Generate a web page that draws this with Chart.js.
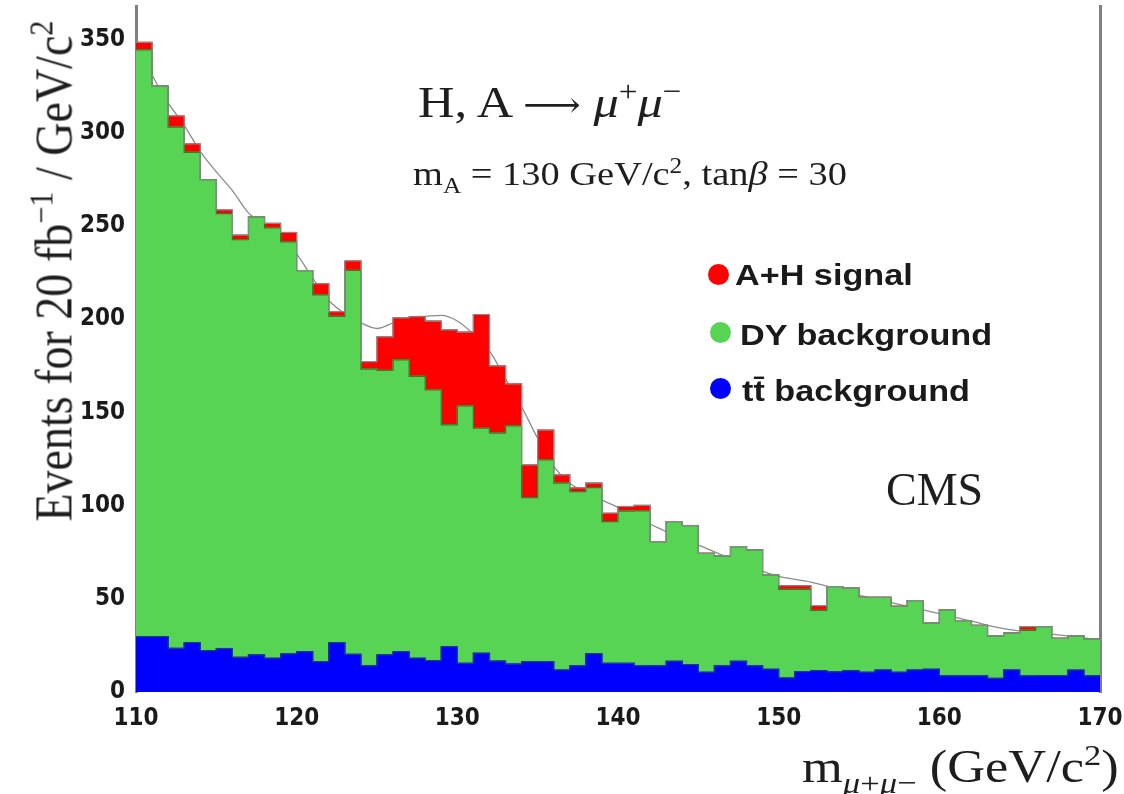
<!DOCTYPE html>
<html>
<head>
<meta charset="utf-8">
<script src="https://cdn.jsdelivr.net/npm/chart.js@4.4.0/dist/chart.umd.min.js"></script>
<style>
    body { margin: 0; background: #fff; }
    #wrap { position: relative; width: 1124px; height: 794px; overflow: hidden; }
    canvas { position: absolute; left: 0; top: 0; }
    .serif { position: absolute; white-space: nowrap; line-height: 1; color: #1e1e1e;
             font-family: 'Liberation Serif', 'Times New Roman', serif; transform-origin: 0 0; }
    .serif i { font-style: italic; }
    .sup { font-size: 0.66em; position: relative; top: -0.55em; }
    .sub { font-size: 0.66em; position: relative; top: 0.35em; }
    .arrow { font-family: 'DejaVu Serif', 'DejaVu Sans', serif; font-size: 0.8em; }
    .leg { position: absolute; white-space: nowrap; line-height: 1; color: #1a1a1a;
           font-family: 'Liberation Sans', Arial, sans-serif; font-weight: bold; font-size: 30px;
           transform-origin: 0 0; transform: scaleX(1.14); }
    .dot { position: absolute; width: 21px; height: 21px; border-radius: 50%; }
</style>
</head>
<body>
<div id="wrap">
    <canvas id="histo" width="1124" height="794"></canvas>

    <div class="serif" style="left:418px; top:80px; font-size:45px; transform:scaleX(1.12);">H, A <span class="arrow">&#10230;</span> <i>&mu;</i><span class="sup">+</span><i>&mu;</i><span class="sup">&minus;</span></div>
    <div class="serif" style="left:413px; top:157px; font-size:34px; transform:scaleX(1.13);">m<span class="sub">A</span> = 130 GeV/c<span class="sup">2</span>, tan<i>&beta;</i> = 30</div>

    <div class="dot" style="left:708px; top:264px; background:#ff0000;"></div>
    <div class="leg" style="left:735px; top:260px;">A+H signal</div>
    <div class="dot" style="left:710px; top:322px; background:#57d453;"></div>
    <div class="leg" style="left:740px; top:320px;">DY background</div>
    <div class="dot" style="left:710px; top:378px; background:#0000ff;"></div>
    <div class="leg" style="left:742px; top:376px;">tt&#772; background</div>

    <div class="serif" style="left:886px; top:467px; font-size:46px;">CMS</div>

    <div class="serif" id="ytitle" style="left:0; top:0; font-size:46px;">Events for 20 fb<span class="sup">&minus;1</span> / GeV/c<span class="sup">2</span></div>
    <div class="serif" style="left:802px; top:744px; font-size:46px; transform:scaleX(1.14);">m<span class="sub"><i>&mu;</i>+<i>&mu;</i>&minus;</span> (GeV/c<span class="sup">2</span>)</div>
</div>

<script>
// bin centres, 1 GeV/c2 wide, 110 - 170
const massBins = [110.5, 111.5, 112.5, 113.5, 114.5, 115.5, 116.5, 117.5, 118.5, 119.5,
    120.5, 121.5, 122.5, 123.5, 124.5, 125.5, 126.5, 127.5, 128.5, 129.5,
    130.5, 131.5, 132.5, 133.5, 134.5, 135.5, 136.5, 137.5, 138.5, 139.5,
    140.5, 141.5, 142.5, 143.5, 144.5, 145.5, 146.5, 147.5, 148.5, 149.5,
    150.5, 151.5, 152.5, 153.5, 154.5, 155.5, 156.5, 157.5, 158.5, 159.5,
    160.5, 161.5, 162.5, 163.5, 164.5, 165.5, 166.5, 167.5, 168.5, 169.5];

const ttBkg = [29.7, 29.7, 23.4, 26.5, 22.2, 23.3, 18.6, 19.9, 18.1, 20.4,
    21.6, 16.3, 26.5, 20.2, 14, 19.9, 21.6, 18.1, 16.8, 24.3,
    15.4, 20.8, 16.6, 15, 16.3, 16.3, 11.8, 14, 20.6, 15.4,
    15.4, 14, 14, 16.5, 14.7, 10.6, 14, 16.5, 14, 12.2,
    7.5, 10.9, 11.4, 10.8, 11.5, 10.6, 11.8, 10.6, 11.8, 12.2,
    8.6, 8.6, 8.6, 7.3, 11.8, 8.6, 8.8, 8.8, 11.7, 8.7];

const dyBkg = [314.8, 295.3, 279.6, 263, 252.6, 233.3, 224, 234.9, 230.8, 221.1,
    204.4, 196.7, 175, 206, 159.2, 152.6, 156.6, 151.2, 145.2, 119,
    138.1, 120.7, 122.3, 127.8, 88, 108.2, 100.2, 93.5, 89, 76,
    81.6, 83.1, 66.7, 74.9, 74.6, 63.8, 59, 61.5, 62.2, 50.6,
    47.5, 44.1, 32.4, 45.7, 44.2, 40.2, 39, 35.4, 37.2, 24.8,
    35.4, 29.7, 27.1, 22.8, 19.8, 24.5, 26.2, 20, 18.4, 19.7];

const signal = [4, 0, 6, 4.5, 0, 2, 2.5, 0, 2.5, 5,
    0, 6, 2.5, 5, 4, 18, 22.5, 32, 37, 51,
    39.5, 61, 36, 22.5, 17.5, 16, 4.5, 2, 2.5, 4.5,
    2.5, 3, 0, 0, 0, 0, 0, 0, 0, 0,
    2, 2, 2.5, 0, 0, 0, 0, 0, 0, 0,
    0, 0, 0, 0, 0, 2, 0, 0, 0, 0];

// smooth expectation curve
const curveMass = [110, 111, 112, 113, 114, 115, 116, 117, 118, 119, 120, 121, 122, 123, 124, 125,
    126, 127, 128, 129, 130, 131, 132, 133, 134, 135, 136, 137, 138, 140, 142.5, 145.5,
    148, 150, 152, 155, 157.5, 160, 162, 164, 167, 170];
const curveVal = [350, 331, 316, 304, 290, 279, 269, 257, 251, 245, 235, 222, 210, 203, 198, 195,
    198, 201, 201.5, 202, 199, 192, 183, 168, 153, 136, 121, 112, 107, 99, 88, 77,
    68, 62, 59, 52, 47, 42, 38, 34, 31, 28];

const xTicks = [110, 120, 130, 140, 150, 160, 170];
const yMax = 368;
const binHalf = 0.5;

function pts(ys) {
    return ys.map((y, i) => ({ x: massBins[i], y: y }));
}

// step outline through the bin edges of a (cumulative) histogram
function outline(ys) {
    const p = ys.map((y, i) => ({ x: massBins[i] - binHalf, y: y }));
    p.push({ x: massBins[massBins.length - 1] + binHalf, y: ys[ys.length - 1] });
    return p;
}

const dyTop = dyBkg.map((v, i) => v + ttBkg[i]);
const allTop = dyTop.map((v, i) => v + signal[i]);

const tickFont = { family: "'Liberation Sans Narrow', 'DejaVu Sans Condensed', 'Liberation Sans', sans-serif", size: 24, weight: 'bold' };

const barStyle = (fill) => ({
    type: 'bar',
    backgroundColor: fill,
    borderWidth: 0,
    barPercentage: 1,
    categoryPercentage: 1,
    inflateAmount: 0.6,
    order: 2
});

const edgeStyle = (col, ord) => ({
    type: 'line',
    yAxisID: 'yc',
    stepped: 'before',
    borderColor: col,
    borderWidth: 1.2,
    pointRadius: 0,
    fill: false,
    order: ord
});

const noPad = s => { s.paddingLeft = 0; s.paddingRight = 0; s.paddingTop = 0; s.paddingBottom = 0; };

document.addEventListener("DOMContentLoaded", () => {
    const yt = document.getElementById('ytitle');
    yt.style.transformOrigin = '50% 50%';
    const w = yt.offsetWidth, h = yt.offsetHeight;
    yt.style.left = (54 - w / 2) + 'px';
    yt.style.top = (271 - h / 2) + 'px';
    yt.style.transform = 'rotate(-90deg) scaleY(1.14)';

    const ctx = document.getElementById('histo').getContext('2d');
    new Chart(ctx, {
        data: {
            datasets: [
                Object.assign({ label: 'tt background', data: pts(ttBkg) }, barStyle('#0000ff')),
                Object.assign({ label: 'DY background', data: pts(dyBkg) }, barStyle('#57d453')),
                Object.assign({ label: 'A+H signal', data: pts(signal) }, barStyle('#ff0000')),
                Object.assign({ label: 'tt edge', data: outline(ttBkg) }, edgeStyle('#1b3a8c', 1)),
                Object.assign({ label: 'DY edge', data: outline(dyTop) }, edgeStyle('#2f7d2f', 0)),
                Object.assign({ label: 'total edge', data: outline(allTop) }, edgeStyle('#8a8a8a', -1)),
                {
                    type: 'line',
                    label: 'expectation',
                    data: curveMass.map((m, i) => ({ x: m, y: curveVal[i] })),
                    yAxisID: 'yc',
                    borderColor: '#8c8c8c',
                    borderWidth: 1.3,
                    pointRadius: 0,
                    fill: false,
                    cubicInterpolationMode: 'monotone',
                    order: 5
                }
            ]
        },
        options: {
            responsive: false,
            animation: false,
            layout: { padding: { left: 0, right: 22, top: 6, bottom: 0 } },
            plugins: { legend: { display: false }, tooltip: { enabled: false } },
            scales: {
                x: {
                    type: 'linear',
                    min: 110,
                    max: 170,
                    offset: false,
                    stacked: true,
                    afterBuildTicks: s => { s.ticks = xTicks.map(v => ({ value: v })); },
                    afterFit: s => { s.height = 102; noPad(s); },
                    grid: { display: false, drawTicks: false, offset: false },
                    border: { display: false },
                    ticks: { font: tickFont, color: '#1a1a1a', padding: 12, maxRotation: 0 }
                },
                y: {
                    min: 0,
                    max: yMax,
                    stacked: true,
                    afterFit: s => { s.width = 136; noPad(s); },
                    grid: { display: false, drawTicks: false },
                    border: { display: true, color: '#808080', width: 3 },
                    ticks: { stepSize: 50, includeBounds: false, font: tickFont, color: '#1a1a1a', padding: 11 }
                },
                yc: {
                    position: 'right',
                    min: 0,
                    max: yMax,
                    afterFit: s => { s.width = 2; noPad(s); },
                    grid: { display: false, drawTicks: false },
                    border: { display: true, color: '#808080', width: 3 },
                    ticks: { display: false }
                }
            }
        }
    });
});
</script>
</body>
</html>
